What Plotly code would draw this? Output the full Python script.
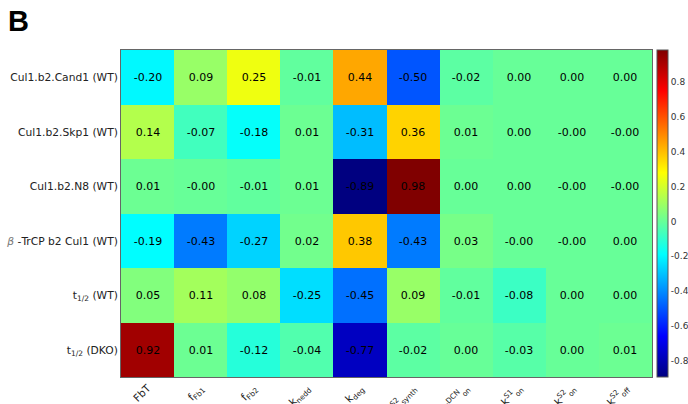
import plotly.graph_objects as go

rows = ["Cul1.b2.Cand1 (WT)", "Cul1.b2.Skp1 (WT)", "Cul1.b2.N8 (WT)",
        "<span style='color:#777'><i>β</i></span> -TrCP b2 Cul1 (WT)",
        "t<sub>1/2</sub> (WT)", "t<sub>1/2</sub> (DKO)"]
cols = ["FbT", "f<sub>Fb1</sub>", "f<sub>Fb2</sub>", "k<sub>nedd</sub>", "k<sub>deg</sub>",
        "k<sup>S2</sup><sub>synth</sub>", "k<sup>DCN</sup><sub>on</sub>", "k<sup>S1</sup><sub>on</sub>",
        "k<sup>S2</sup><sub>on</sub>", "k<sup>S2</sup><sub>off</sub>"]

r1 = [-0.20, 0.09, 0.25, -0.01, 0.44, -0.50, -0.02, 0.00, 0.00, 0.00]
r2 = [0.14, -0.07, -0.18, 0.01, -0.31, 0.36, 0.01, 0.00, -0.0, -0.0]
r3 = [0.01, -0.0, -0.01, 0.01, -0.89, 0.98, 0.00, 0.00, -0.0, -0.0]
r4 = [-0.19, -0.43, -0.27, 0.02, 0.38, -0.43, 0.03, -0.0, -0.0, 0.00]
r5 = [0.05, 0.11, 0.08, -0.25, -0.45, 0.09, -0.01, -0.08, 0.00, 0.00]
r6 = [0.92, 0.01, -0.12, -0.04, -0.77, -0.02, 0.00, -0.03, 0.00, 0.01]
z = [r1, r2, r3, r4, r5, r6]
text = [["{:.2f}".format(v) for v in r] for r in z]

cb_ticks = [-0.8, -0.6, -0.4, -0.2, 0, 0.2, 0.4, 0.6, 0.8]

jet = [[0.0, "rgb(0,0,128)"], [0.125, "rgb(0,0,255)"], [0.375, "rgb(0,255,255)"],
       [0.625, "rgb(255,255,0)"], [0.875, "rgb(255,0,0)"], [1.0, "rgb(128,0,0)"]]

L, T, PW, PH = 121, 50, 531, 327

fig = go.Figure(go.Heatmap(
    z=z, x=cols, y=rows, text=text, texttemplate="%{text}",
    textfont=dict(size=11, color="black", family="DejaVu Sans"),
    colorscale=jet, zmin=-0.89, zmax=0.98, xgap=0, ygap=0,
    colorbar=dict(thickness=11, len=1, lenmode="fraction", x=1 + 5/PW, xanchor="left",
                  y=0.5, yanchor="middle", tickvals=cb_ticks,
                  ticktext=[str(t) if t != 0 else "0" for t in cb_ticks],
                  ticks="", ticklabelposition="outside",
                  tickfont=dict(size=9, color="#333", family="DejaVu Sans"),
                  outlinewidth=1, outlinecolor="#555", xpad=0, ypad=0)
))

fig.update_layout(
    width=688, height=404,
    margin=dict(l=L, r=688 - L - PW, t=T, b=404 - T - PH, autoexpand=False),
    paper_bgcolor="white", plot_bgcolor="white",
    font=dict(family="DejaVu Sans", color="#222"),
    annotations=[dict(text="<b>B</b>", x=(6 - L) / PW, y=1 + (T - 3) / PH,
                      xref="paper", yref="paper",
                      xanchor="left", yanchor="top", showarrow=False,
                      font=dict(size=29, color="black", family="Liberation Sans"))],
)
fig.update_xaxes(tickangle=-45, tickfont=dict(size=10.5, color="#222"), automargin=False,
                 showline=True, mirror=True, linecolor="#666", linewidth=1, ticks="")
fig.update_yaxes(autorange="reversed", tickfont=dict(size=10.7, color="#222"), automargin=False,
                 showline=True, mirror=True, linecolor="#666", linewidth=1, ticks="")

fig.write_html("out.html", config={"displayModeBar": False},
               post_script="document.body.style.margin='0';document.body.style.overflow='hidden';")
